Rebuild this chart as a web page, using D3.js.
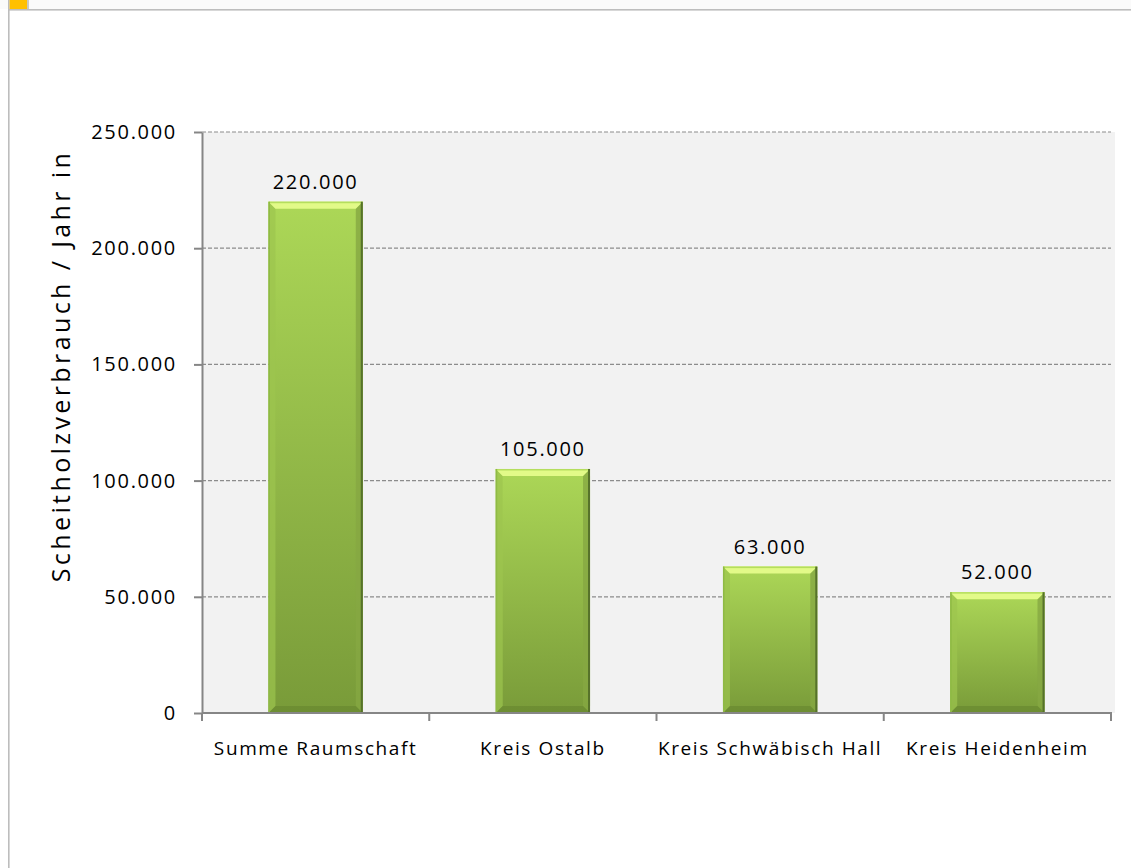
<!DOCTYPE html>
<html>
<head>
<meta charset="utf-8">
<script src="https://cdn.jsdelivr.net/npm/d3@7"></script>
<style>
  html, body { margin: 0; padding: 0; background: #ffffff; }
  svg { display: block; }
  text { font-family: "Open Sans", sans-serif; fill: #000; }
</style>
</head>
<body>
<svg id="chart"></svg>
<script>
// chart values
const categories = ['Summe Raumschaft', 'Kreis Ostalb', 'Kreis Schwäbisch Hall', 'Kreis Heidenheim'];
const values = [220000, 105000, 63000, 52000];
const yTicks = [0, 50000, 100000, 150000, 200000, 250000];
const yLabel = 'Scheitholzverbrauch / Jahr in';

const width = 1131, height = 868;
const plot = { left: 202, right: 1111, top: 132, bottom: 713 };

const svg = d3.select('#chart')
  .attr('width', width)
  .attr('height', height);

// frame
svg.append('rect')
  .attr('x', 0).attr('y', 0).attr('width', width).attr('height', 9)
  .attr('fill', '#fafafa');
svg.append('rect')
  .attr('x', 8).attr('y', 9).attr('width', width - 8).attr('height', 1.6)
  .attr('fill', '#bdbdbd');
svg.append('rect')
  .attr('x', 8).attr('y', 0).attr('width', 1.6).attr('height', height)
  .attr('fill', '#bdbdbd');
svg.append('rect')
  .attr('x', 9.6).attr('y', 0).attr('width', 17.6).attr('height', 9)
  .attr('fill', '#ffc000');
svg.append('rect')
  .attr('x', 27.2).attr('y', 0).attr('width', 1.6).attr('height', 9)
  .attr('fill', '#bdbdbd');

let x = d3.scaleBand()
  .domain(categories)
  .range([plot.left, plot.right])
  .paddingInner(0.585)
  .paddingOuter(0.2925);

let y = d3.scaleLinear()
  .domain([0, 250000])
  .range([plot.bottom, plot.top]);

const fmt = (v) => d3.format(',')(v).replace(/,/g, '.');

// plot background
svg.append('rect')
  .attr('x', plot.left)
  .attr('y', plot.top)
  .attr('width', plot.right - plot.left + 4)
  .attr('height', plot.bottom - plot.top)
  .attr('fill', '#f2f2f2');

// gridlines
svg.append('g')
  .attr('class', 'grid')
  .selectAll('line')
  .data(yTicks.filter((d) => d > 0))
  .enter().append('line')
    .attr('x1', plot.left)
    .attr('x2', plot.right)
    .attr('y1', (d) => y(d))
    .attr('y2', (d) => y(d))
    .attr('stroke', '#8c8c8c')
    .attr('stroke-width', 1.2)
    .attr('stroke-dasharray', '4,2');

// Y axis
let yAxisGroup = svg.append('g')
  .attr('class', 'axis axis-y')
  .attr('transform', `translate(${plot.left}, 0)`)
  .call(d3.axisLeft(y).tickValues(yTicks).tickFormat(fmt).tickSizeInner(8).tickSizeOuter(0).tickPadding(17));

yAxisGroup.select('.domain').attr('stroke', '#868686').attr('stroke-width', 2);
yAxisGroup.selectAll('line').attr('stroke', '#868686').attr('stroke-width', 2);
yAxisGroup.selectAll('text')
  .style('font-family', '"Open Sans", sans-serif')
  .style('font-size', '20px')
  .style('letter-spacing', '1.7px')
  .attr('fill', '#000');

// bars
let defs = svg.append('defs');
let grad = defs.append('linearGradient')
  .attr('id', 'barFill')
  .attr('x1', 0).attr('y1', 0).attr('x2', 0).attr('y2', 1);
grad.append('stop').attr('offset', '0%').attr('stop-color', '#acd757');
grad.append('stop').attr('offset', '100%').attr('stop-color', '#799b39');

let bars = svg.append('g').attr('class', 'bars')
  .selectAll('g')
  .data(categories.map((c, i) => ({ name: c, value: values[i] })))
  .enter().append('g');

const bw = x.bandwidth();
const bev = 7;

bars.append('rect')
  .attr('x', (d) => x(d.name))
  .attr('y', (d) => y(d.value))
  .attr('width', bw)
  .attr('height', (d) => y(0) - y(d.value))
  .attr('fill', 'url(#barFill)');

// left bevel
bars.append('polygon')
  .attr('points', (d) => {
    let x0 = x(d.name), y0 = y(d.value), y1 = y(0);
    return [[x0, y0], [x0 + bev, y0 + bev], [x0 + bev, y1 - bev], [x0, y1]].join(' ');
  })
  .attr('fill', '#9cc54f')
  .attr('opacity', 0.7);

// right bevel
bars.append('polygon')
  .attr('points', (d) => {
    let x0 = x(d.name) + bw, y0 = y(d.value), y1 = y(0);
    return [[x0, y0], [x0 - bev, y0 + bev], [x0 - bev, y1 - bev], [x0, y1]].join(' ');
  })
  .attr('fill', '#86a842')
  .attr('opacity', 0.8);

// bottom bevel
bars.append('polygon')
  .attr('points', (d) => {
    let x0 = x(d.name), x1 = x0 + bw, y1 = y(0);
    return [[x0, y1], [x0 + bev, y1 - bev], [x1 - bev, y1 - bev], [x1, y1]].join(' ');
  })
  .attr('fill', '#66852e')
  .attr('opacity', 0.6);

// top bevel
bars.append('polygon')
  .attr('points', (d) => {
    let x0 = x(d.name), x1 = x0 + bw, y0 = y(d.value);
    return [[x0, y0], [x1, y0], [x1 - bev, y0 + bev], [x0 + bev, y0 + bev]].join(' ');
  })
  .attr('fill', '#e2fa88');

bars.append('rect')
  .attr('x', (d) => x(d.name))
  .attr('y', (d) => y(d.value))
  .attr('width', bw)
  .attr('height', 1.5)
  .attr('fill', '#b5de5e');

// dark right edge
bars.append('rect')
  .attr('x', (d) => x(d.name) + bw - 2)
  .attr('y', (d) => y(d.value))
  .attr('width', 2)
  .attr('height', (d) => y(0) - y(d.value))
  .attr('fill', '#56722a');

bars.append('rect')
  .attr('x', (d) => x(d.name))
  .attr('y', (d) => y(d.value))
  .attr('width', 1.5)
  .attr('height', (d) => y(0) - y(d.value))
  .attr('fill', '#8fba45');

// value labels
bars.append('text')
  .attr('x', (d) => x(d.name) + bw / 2)
  .attr('y', (d) => y(d.value) - 13)
  .attr('text-anchor', 'middle')
  .style('font-size', '20px')
  .style('letter-spacing', '1.7px')
  .text((d) => fmt(d.value));

// X axis
let xAxisGroup = svg.append('g')
  .attr('class', 'axis axis-x');

xAxisGroup.append('line')
  .attr('x1', plot.left).attr('x2', plot.right + 1)
  .attr('y1', plot.bottom).attr('y2', plot.bottom)
  .attr('stroke', '#868686').attr('stroke-width', 2);

let boundaries = [plot.left].concat(categories.map((c) => x(c) + bw + (x.step() - bw) / 2));
xAxisGroup.selectAll('.tick')
  .data(boundaries)
  .enter().append('line')
    .attr('class', 'tick')
    .attr('x1', (d) => d).attr('x2', (d) => d)
    .attr('y1', plot.bottom).attr('y2', plot.bottom + 8)
    .attr('stroke', '#868686').attr('stroke-width', 2);

xAxisGroup.selectAll('text')
  .data(categories)
  .enter().append('text')
    .attr('x', (d) => x(d) + bw / 2)
    .attr('y', plot.bottom + 42)
    .attr('text-anchor', 'middle')
    .style('font-size', '19px')
    .style('letter-spacing', '1.6px')
    .text((d) => d);

// Y axis title
svg.append('text')
  .attr('transform', `translate(70, 366) rotate(-90)`)
  .attr('text-anchor', 'middle')
  .style('font-size', '25px')
  .style('letter-spacing', '3.4px')
  .text(yLabel);
</script>
</body>
</html>
